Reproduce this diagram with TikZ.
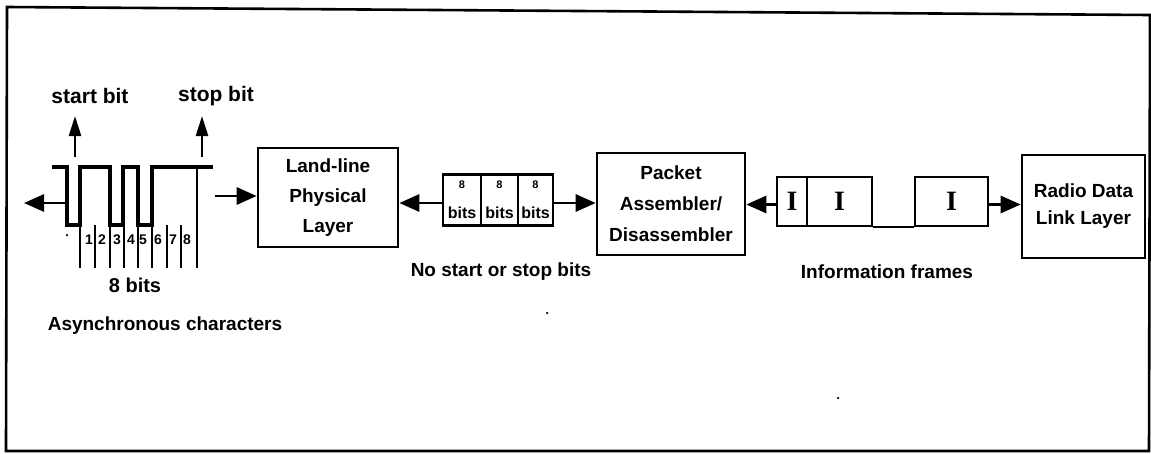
\documentclass[tikz,border=0pt]{standalone}
\usepackage{fontspec}
\setmainfont{Liberation Sans}
\newfontfamily\serifI{Liberation Serif}
\usetikzlibrary{arrows.meta}
\begin{document}
\begin{tikzpicture}[x=1pt,y=-1pt,
  box/.style={draw,line width=2.6pt,inner sep=0pt,align=center,font=\fontsize{19}{30}\selectfont\bfseries},
  cell/.style={draw,line width=2.4pt,inner sep=0pt,minimum height=51pt},
  arr/.style={line width=2.8pt,-{Triangle[length=20pt,width=17pt]}},
  uparr/.style={line width=2.6pt,-{Triangle[length=20pt,width=12pt]}},
  lbl/.style={inner sep=0pt,font=\fontsize{19}{22}\selectfont\bfseries},
  num/.style={inner sep=0pt,font=\fontsize{14}{14}\selectfont\bfseries},
  tick/.style={line width=2pt},
  wave/.style={line width=4pt,line join=miter},
  frameI/.style={inner sep=0pt,font=\fontsize{28}{28}\selectfont\serifI\bfseries},
  dot/.style={fill,circle,inner sep=0pt,minimum size=2.5pt}]
\useasboundingbox (0,0) rectangle (1151,453);
% outer frame
\draw[line width=2.6pt] (7,7) -- (1150,15) -- (1149,451) -- (6,451) -- cycle;

% waveform
\draw[wave] (52,167) -- (67,167) -- (67,225) -- (80,225) -- (80,167) -- (110,167)
  -- (110,225) -- (123,225) -- (123,167) -- (138,167) -- (138,225) -- (152,225)
  -- (152,167) -- (213,167);
\foreach \x in {80,95,110,124,138,152,167,181}
  \draw[tick] (\x,225) -- (\x,268);
\draw[tick] (197,167) -- (197,268);
\foreach \x/\n in {89/1,102/2,117/3,131/4,143/5,158/6,173/7,187/8}
  \node[num] (b\n) at (\x,240) {\n};
\node[dot] (d1) at (67,235) {};

% labels of the characters
\node[lbl,font=\fontsize{21}{22}\selectfont\bfseries] (startl) at (90,96) {start bit};
\node[lbl,font=\fontsize{21}{22}\selectfont\bfseries] (stopl) at (216,96) {stop bit};
\node[lbl,font=\fontsize{20}{22}\selectfont\bfseries] (eightb) at (135,285) {8 bits};
\node[lbl] (async) at (165,326) {Asynchronous characters};
\coordinate (sb) at (75,157);
\coordinate (sbt) at (75,116);
\coordinate (eb) at (202,157);
\coordinate (ebt) at (202,116);
\draw[uparr] (sb) -- (sbt);
\draw[uparr] (eb) -- (ebt);
\coordinate (wl) at (67,203);
\coordinate (wlt) at (24,203);
\draw[arr] (wl) -- (wlt);

% boxes
\node[box,minimum width=140pt,minimum height=99pt] (land) at (328,197.5)
  {Land-line\\Physical\\Layer};
\node[box,minimum width=148pt,minimum height=102pt,font=\fontsize{19}{31}\selectfont\bfseries] (pad) at (671,204)
  {Packet\\Assembler/\\Disassembler};
\node[box,minimum width=123pt,minimum height=103pt,font=\fontsize{19}{27}\selectfont\bfseries] (radio) at (1083.5,206.5)
  {Radio Data\\Link Layer};

% 8-bit groups
\node[cell,minimum width=38pt] (c1) at (462,200) {};
\node[cell,minimum width=37pt] (c2) at (499.5,200) {};
\node[cell,minimum width=35pt] (c3) at (535.5,200) {};
\foreach \c in {c1,c2,c3}{
  \node[inner sep=0pt,font=\fontsize{11}{11}\selectfont\bfseries] at ([yshift=-11pt]\c.north) {8};
  \node[inner sep=0pt,font=\fontsize{16}{16}\selectfont\bfseries] at ([yshift=14pt]\c.south) {bits};
}
\node[lbl] (nostart) at (501,272) {No start or stop bits};
\node[dot] (d2) at (547,313) {};

% information frames
\node[cell,minimum width=30pt,minimum height=49pt] (fa) at (792,201.5) {};
\node[cell,minimum width=65pt,minimum height=49pt] (fb) at (839.5,201.5) {};
\node[cell,minimum width=73pt,minimum height=49pt] (fc) at (951.5,201.5) {};
\node[frameI] at (fa) {I};
\node[frameI] at (fb) {I};
\node[frameI] at (fc) {I};
\draw[line width=2.4pt] (fb.south east) -- (fc.south west);
\node[lbl] (info) at (887,272) {Information frames};
\node[dot] (d3) at (838,398) {};

% connectors
\coordinate (wend) at (215,196);
\draw[arr] (wend) -- (wend -| land.west);
\draw[arr] ([yshift=-3pt]c1.west) -- ([yshift=-3pt]c1.west -| land.east);
\draw[arr] ([yshift=-3pt]c3.east) -- ([yshift=-3pt]c3.east -| pad.west);
\draw[arr] ([yshift=-3pt]fa.west) -- ([yshift=-3pt]fa.west -| pad.east);
\draw[arr] ([yshift=-3pt]fc.east) -- ([yshift=-3pt]fc.east -| radio.west);
\end{tikzpicture}
\end{document}
